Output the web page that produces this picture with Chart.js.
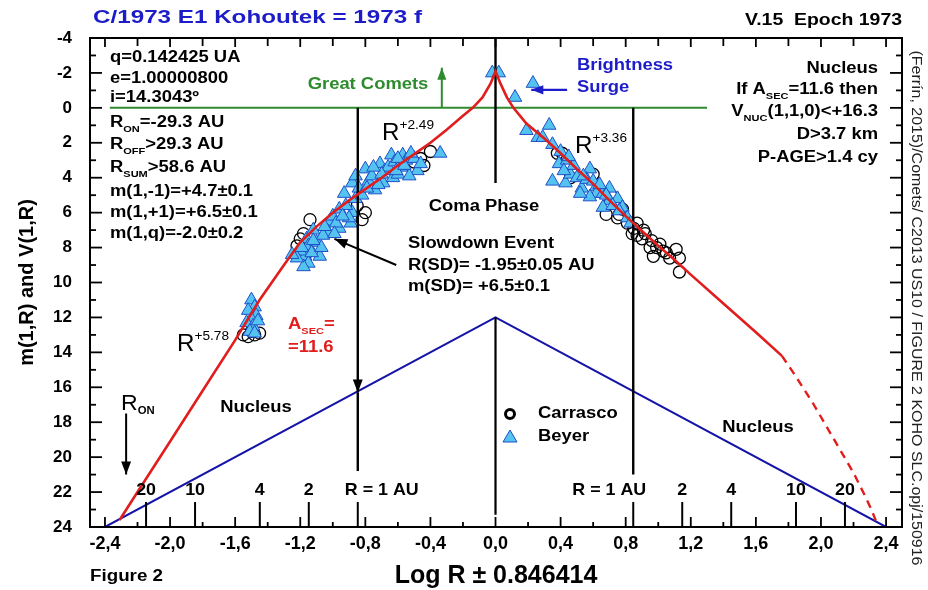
<!DOCTYPE html>
<html><head><meta charset="utf-8">
<script src="https://cdn.jsdelivr.net/npm/chart.js@4.4.1/dist/chart.umd.min.js"></script>
<style>html,body{margin:0;padding:0;background:#fff}#wrap{width:928px;height:590px}</style>
</head><body><div id="wrap"><canvas id="c" width="928" height="590"></canvas></div>
<script>
// ---------------- data ----------------
const xTickValues = [-2.4,-2.0,-1.6,-1.2,-0.8,-0.4,0,0.4,0.8,1.2,1.6,2.0,2.4];
const yTickValues = [-4,-2,0,2,4,6,8,10,12,14,16,18,20,22,24];
const rDistances = [1,2,4,10,20];
const rLabels = ['R = 1 AU','2','4','10','20'];
const logOffset = 0.846414;

const beyerX = [-1.50,-1.48,-1.52,-1.47,-1.50,-1.53,-1.49,-1.46,-1.51,-1.48,
  -1.16,-1.15,-1.17,-1.15,-1.08,-1.02,-1.00,-0.93,-0.88,-0.86,-0.88,-0.80,-0.71,-0.64,-0.57,-0.69,-0.63,-0.60,-0.48,-0.34,
  -0.96,-1.03,-0.96,-0.89,-0.74,-1.20,-1.18,-1.12,-1.10,-1.06,-1.05,-0.98,-0.92,-0.90,-0.84,-0.82,-0.78,-0.76,-0.72,-0.68,
  -0.66,-0.62,-0.58,-0.55,-0.53,-0.50,-0.86,-1.13,-1.22,
  -0.94,-0.99,-1.07,-0.79,-0.70,-0.61,-0.56,-0.46,-0.52,-0.60,-0.75,-1.25,-1.19,-1.12,
  -0.02,0.02,0.23,0.12,0.33,0.19,0.26,0.29,0.35,0.40,0.39,0.35,0.43,0.46,0.50,0.53,0.58,0.56,0.62,0.62,
  0.66,0.70,0.70,0.75,0.66,0.78,0.81,0.83,0.58,0.52,0.44,0.48,0.54,0.60,0.64,0.68,0.72,0.76,0.45,0.42];
const beyerY = [11.0,11.4,11.6,11.9,12.1,12.3,12.5,12.2,12.8,12.9,
  7.5,7.9,8.5,8.9,8.5,6.5,6.2,4.9,4.3,5.2,6.0,3.5,3.2,2.7,2.7,4.3,4.0,3.8,3.6,2.6,
  5.8,7.1,6.9,6.6,4.7,8.2,9.1,7.0,7.7,7.3,6.8,6.6,5.6,6.3,4.6,5.0,4.2,3.9,4.4,3.6,
  3.4,3.1,3.4,3.0,3.9,2.9,3.9,8.3,8.6,
  6.2,7.2,8.0,4.6,3.8,3.6,3.3,3.2,2.6,2.9,3.4,8.4,8.0,7.6,
  -2.0,-2.0,-1.4,-0.6,1.0,1.3,1.7,1.7,2.1,2.5,3.2,4.2,4.3,3.8,4.0,4.6,3.5,4.1,4.5,4.9,
  4.9,4.6,5.3,5.2,5.7,5.7,6.3,6.6,5.1,4.9,3.0,3.3,3.9,4.2,4.4,5.0,5.6,5.9,2.8,3.6];

const carrascoX = [-1.55,-1.52,-1.48,-1.45,-1.50,
  -0.46,-0.44,-0.40,-0.50,-0.80,-0.82,-1.18,-1.20,-1.14,-1.22,-1.16,-0.85,
  0.38,0.41,0.60,0.72,0.70,0.68,0.75,0.81,0.85,0.87,0.90,0.92,0.96,0.99,0.97,1.03,1.07,1.11,1.13,1.13,
  1.05,0.91,0.87,0.76,0.78,0.46,0.64,0.95,1.01,0.84];
const carrascoY = [13.0,13.1,13.0,12.9,12.8,
  2.9,3.3,2.5,3.1,6.0,6.4,7.2,7.5,6.4,7.9,8.3,5.6,
  2.6,2.6,3.8,5.1,5.5,6.1,6.3,6.6,6.9,7.3,7.5,7.2,7.6,8.0,8.5,8.2,8.6,8.1,8.6,9.4,
  8.3,7.0,6.6,6.1,5.8,4.0,4.7,8.0,7.8,7.2];

const redX = [-2.31,-2.2,-2.0,-1.8,-1.6,-1.45,-1.3,-1.2,-1.1,-1.0,-0.9,-0.8,-0.7,-0.6,-0.5,-0.4,-0.3,-0.2,-0.14,-0.08,-0.03,0,0.03,0.07,0.11,0.19,0.3,0.4,0.5,0.6,0.7,0.8,0.9,1.0,1.1,1.2,1.4,1.6,1.76];
const redY = [23.6,22.0,19.1,16.2,13.3,11.0,9.0,7.7,6.8,6.0,5.3,4.65,4.0,3.3,2.65,2.0,1.25,0.45,0.0,-0.6,-1.4,-2.1,-1.4,-0.6,0.0,0.9,1.75,2.6,3.5,4.35,5.3,6.2,7.05,7.9,8.7,9.55,11.2,12.85,14.2];
const redDashX = [1.76,1.84,1.95,2.1,2.2,2.27,2.31,2.34];
const redDashY = [14.2,15.3,16.9,19.3,20.9,22.2,23.0,23.7];

const nucleusX = [-2.4,0,2.4];
const nucleusY = [24,12,24];
const greenX = [-2.37,1.3];
const greenY = [0,0];
const greenArrowX = [-0.33,-0.33];
const greenArrowY = [0,-2.3];
const surgeArrowX = [0.44,0.22];
const surgeArrowY = [-1.03,-1.03];
const slowdownArrowX = [-0.61,-0.99];
const slowdownArrowY = [9.0,7.5];
const ronArrowX = [-2.27,-2.27];
const ronArrowY = [17.5,21.0];
const axisZeroUpperY = [-4,4.3];
const axisZeroLowerY = [12,23.3];
const oneAuLeftUpperY = [0,16.3];
const oneAuLeftLowerY = [16.3,20.8];
const oneAuRightY = [0,21.0];

// ---------------- helpers ----------------
const SANS = '"Liberation Sans", Arial, Helvetica, sans-serif';
const zip = (xs, ys) => xs.map((x, i) => ({x, y: ys[i]}));
const RED = '#e11d1d', NBLUE = '#1414a8', GREEN = '#2e8b2e', TBLUE = '#1c1cc8';

function txt(ctx, parts, x, y, o) {
  o = Object.assign({size: 16, weight: 'bold', family: SANS, color: '#000', align: 'left', sx: 1.15, sub: 0.6}, o || {});
  if (typeof parts === 'string') parts = [[parts]];
  const segs = parts.map(p => {
    const kind = p[1] || 'n';
    const sz = kind === 'n' ? (p[2] || o.size) : o.size * o.sub;
    const w8 = p[3] || o.weight;
    const f = `${w8} ${sz}px ${o.family}`;
    ctx.font = f;
    return {t: p[0], kind, f, w: ctx.measureText(p[0]).width};
  });
  let total = segs.reduce((a, s) => a + s.w, 0);
  const sx = o.width ? o.width / total : o.sx;
  total *= sx;
  let cx = o.align === 'left' ? x : o.align === 'right' ? x - total : x - total / 2;
  for (const s of segs) {
    const dy = s.kind === 'sub' ? o.size * 0.38 : s.kind === 'sup' ? -o.size * 0.42 : 0;
    ctx.save();
    ctx.font = s.f; ctx.fillStyle = o.color; ctx.textBaseline = 'middle'; ctx.textAlign = 'left';
    ctx.translate(cx, y + dy); ctx.scale(sx, 1); ctx.fillText(s.t, 0, 0);
    ctx.restore();
    cx += s.w * sx;
  }
}

const decor = {
  id: 'decor',
  afterDatasetsDraw(chart) {
    const ctx = chart.ctx;
    chart.data.datasets.forEach((ds, i) => {
      if (!ds.arrowHead) return;
      const pts = chart.getDatasetMeta(i).data, n = pts.length;
      const a = pts[n - 2], b = pts[n - 1];
      const ang = Math.atan2(b.y - a.y, b.x - a.x);
      const L = ds.arrowHead, W = L * 0.38;
      ctx.save(); ctx.fillStyle = ds.borderColor;
      ctx.beginPath(); ctx.moveTo(b.x, b.y);
      ctx.lineTo(b.x - L * Math.cos(ang) + W * Math.sin(ang), b.y - L * Math.sin(ang) - W * Math.cos(ang));
      ctx.lineTo(b.x - L * Math.cos(ang) - W * Math.sin(ang), b.y - L * Math.sin(ang) + W * Math.cos(ang));
      ctx.closePath(); ctx.fill(); ctx.restore();
    });
  },
  afterDraw(chart) {
    const ctx = chart.ctx;
    const {left, right, top, bottom} = chart.chartArea;
    const xs = chart.scales.x, ys = chart.scales.y;
    ctx.save();
    ctx.strokeStyle = '#000'; ctx.lineWidth = 2;
    ctx.strokeRect(left, top, right - left, bottom - top);
    ctx.lineWidth = 1.8;
    const seg = (x1, y1, x2, y2) => { ctx.beginPath(); ctx.moveTo(x1, y1); ctx.lineTo(x2, y2); ctx.stroke(); };
    const xMinor = xTickValues.slice(1).map((v, i) => (v + xTickValues[i]) / 2);
    xTickValues.forEach(v => { const p = xs.getPixelForValue(v); seg(p, bottom, p, bottom - 10); seg(p, top, p, top + 9); });
    xMinor.forEach(v => { const p = xs.getPixelForValue(v); seg(p, bottom, p, bottom - 5); seg(p, top, p, top + 8); });
    const yMinor = yTickValues.slice(1).map((v, i) => (v + yTickValues[i]) / 2);
    yTickValues.forEach(v => { const p = ys.getPixelForValue(v); seg(left, p, left + 12, p); seg(right, p, right - 12, p); });
    yMinor.forEach(v => { const p = ys.getPixelForValue(v); seg(left, p, left + 6, p); seg(right, p, right - 6, p); });
    // R scale ticks along the bottom
    ctx.lineWidth = 2;
    const rTop = ys.getPixelForValue(22.57), rLab = ys.getPixelForValue(21.9);
    rDistances.forEach((r, i) => {
      [-1, 1].forEach(sg => {
        const p = xs.getPixelForValue(sg * (Math.log10(r) + logOffset));
        seg(p, bottom, p, rTop);
        const off = i === 0 ? -sg * 24 : 0;
        txt(ctx, rLabels[i], p + off, rLab, {size: 17, align: 'center', sx: 1.05});
      });
    });
    ctx.restore();

    // titles
    txt(ctx, 'C/1973 E1 Kohoutek = 1973 f', 93, 18, {size: 19, color: TBLUE, width: 329});
    txt(ctx, 'V.15  Epoch 1973', 902, 20, {size: 17, align: 'right', width: 157});
    txt(ctx, 'Figure 2', 90, 577, {size: 16, width: 73});
    ctx.save(); ctx.translate(916, 308); ctx.rotate(Math.PI / 2);
    txt(ctx, '(Ferrín, 2015)/Comets/ C2013 US10 / FIGURE 2 KOHO SLC.opj/150916', 0, 0, {size: 15, weight: 'normal', align: 'center', width: 515, color: '#222'});
    ctx.restore();

    // left parameter block
    const L = 110;
    txt(ctx, 'q=0.142425 UA', L, 58);
    txt(ctx, 'e=1.00000800', L, 79);
    txt(ctx, 'i=14.3043º', L, 98);
    txt(ctx, [['R'], ['ON', 'sub'], ['=-29.3 AU']], L, 123);
    txt(ctx, [['R'], ['OFF', 'sub'], ['>29.3 AU']], L, 145);
    txt(ctx, [['R'], ['SUM', 'sub'], ['>58.6 AU']], L, 168);
    txt(ctx, 'm(1,-1)=+4.7±0.1', L, 192);
    txt(ctx, 'm(1,+1)=+6.5±0.1', L, 213);
    txt(ctx, 'm(1,q)=-2.0±0.2', L, 234);

    // right nucleus block
    const R = 878;
    txt(ctx, 'Nucleus', R, 69, {align: 'right'});
    txt(ctx, [['If A'], ['SEC', 'sub'], ['=11.6 then']], R, 90, {align: 'right'});
    txt(ctx, [['V'], ['NUC', 'sub'], ['(1,1,0)<+16.3']], R, 112, {align: 'right'});
    txt(ctx, 'D>3.7 km', R, 135, {align: 'right'});
    txt(ctx, 'P-AGE>1.4 cy', R, 158, {align: 'right'});

    txt(ctx, 'Great Comets', 368, 85, {align: 'center', color: GREEN});
    txt(ctx, 'Brightness', 577, 66, {color: TBLUE});
    txt(ctx, 'Surge', 577, 88, {color: TBLUE});
    txt(ctx, 'Coma Phase', 484, 207, {align: 'center'});
    txt(ctx, 'Slowdown Event', 408, 244);
    txt(ctx, 'R(SD)= -1.95±0.05 AU', 408, 266);
    txt(ctx, 'm(SD)= +6.5±0.1', 408, 287);
    txt(ctx, [['A'], ['SEC', 'sub'], ['=']], 288, 325, {color: RED});
    txt(ctx, '=11.6', 288, 348, {color: RED});
    txt(ctx, 'Nucleus', 256, 408, {align: 'center'});
    txt(ctx, 'Nucleus', 758, 428, {align: 'center'});
    txt(ctx, [['R', 'n', 22, 'normal'], ['ON', 'sub']], 121, 404, {size: 18, sub: 0.6, sx: 1.05});
    txt(ctx, [['R', 'n', 23, 'normal'], ['+2.49', 'sup']], 382, 134, {size: 21, weight: 'normal', sub: 0.62, sx: 1.05});
    txt(ctx, [['R', 'n', 23, 'normal'], ['+3.36', 'sup']], 575, 147, {size: 21, weight: 'normal', sub: 0.62, sx: 1.05});
    txt(ctx, [['R', 'n', 23, 'normal'], ['+5.78', 'sup']], 177, 345, {size: 21, weight: 'normal', sub: 0.62, sx: 1.05});

    // legend
    ctx.save();
    ctx.lineWidth = 3; ctx.strokeStyle = '#000';
    ctx.beginPath(); ctx.arc(510, 414, 4.5, 0, Math.PI * 2); ctx.stroke();
    ctx.fillStyle = '#55c3f0'; ctx.strokeStyle = '#1f4fc8'; ctx.lineWidth = 1;
    ctx.beginPath(); ctx.moveTo(510, 430); ctx.lineTo(517, 442); ctx.lineTo(503, 442); ctx.closePath(); ctx.fill(); ctx.stroke();
    ctx.restore();
    txt(ctx, 'Carrasco', 538, 414);
    txt(ctx, 'Beyer', 538, 437);
  }
};

const lineDs = (label, xs, ys, color, width, extra) => Object.assign({
  label, data: zip(xs, ys), showLine: true, borderColor: color, backgroundColor: color,
  borderWidth: width, pointRadius: 0, pointHoverRadius: 0, tension: 0, fill: false
}, extra || {});

const datasets = [
  lineDs('Model (coma)', redX, redY, RED, 2.6, {order: 0}),
  lineDs('Model (extrapolated)', redDashX, redDashY, RED, 2.4, {order: 0, borderDash: [8, 6]}),
  lineDs('x=0 upper', [0, 0], axisZeroUpperY, '#000', 2.4, {order: 1}),
  lineDs('x=0 lower', [0, 0], axisZeroLowerY, '#000', 2.2, {order: 1}),
  lineDs('R=1 AU left', [-logOffset, -logOffset], oneAuLeftUpperY, '#000', 2.4, {order: 1, arrowHead: 13}),
  lineDs('R=1 AU left lower', [-logOffset, -logOffset], oneAuLeftLowerY, '#000', 2.4, {order: 1}),
  lineDs('R=1 AU right', [logOffset, logOffset], oneAuRightY, '#000', 2.4, {order: 1}),
  lineDs('Slowdown arrow', slowdownArrowX, slowdownArrowY, '#000', 2, {order: 1, arrowHead: 13}),
  lineDs('R_ON arrow', ronArrowX, ronArrowY, '#000', 2, {order: 1, arrowHead: 13}),
  lineDs('Surge arrow', surgeArrowX, surgeArrowY, TBLUE, 2.2, {order: 1, arrowHead: 12}),
  lineDs('Great comets arrow', greenArrowX, greenArrowY, GREEN, 2, {order: 1, arrowHead: 12}),
  {label: 'Beyer', data: zip(beyerX, beyerY), showLine: false, pointStyle: 'triangle', pointRadius: 7.8,
   backgroundColor: '#55c3f0', borderColor: '#1f4fc8', borderWidth: 1, order: 3},
  {label: 'Carrasco', data: zip(carrascoX, carrascoY), showLine: false, pointStyle: 'circle', pointRadius: 6,
   backgroundColor: 'rgba(255,255,255,0)', borderColor: '#000', borderWidth: 1.3, order: 4},
  lineDs('Nucleus', nucleusX, nucleusY, NBLUE, 2, {order: 5}),
  lineDs('Great comets limit', greenX, greenY, GREEN, 2, {order: 5})
];

Chart.defaults.font.family = SANS;
new Chart(document.getElementById('c'), {
  type: 'scatter',
  data: {datasets},
  options: {
    responsive: false, animation: false, devicePixelRatio: 1,
    layout: {padding: {top: 38, right: 26, bottom: 0, left: 0}},
    plugins: {legend: {display: false}, tooltip: {enabled: false}},
    events: [],
    scales: {
      x: {
        type: 'linear', min: -2.492, max: 2.498,
        afterBuildTicks: s => { s.ticks = xTickValues.map(v => ({value: v})); },
        afterFit: s => { s.height = 63; },
        grid: {display: false, drawTicks: false}, border: {display: false},
        ticks: {color: '#000', font: {size: 18, weight: 'bold'}, padding: 6, maxRotation: 0, autoSkip: false,
                callback: v => v.toFixed(1).replace('.', ',')},
        title: {display: true, text: 'Log R ± 0.846414', color: '#000', font: {size: 25, weight: 'bold', lineHeight: 1}, padding: {top: 0, bottom: 1}}
      },
      y: {
        type: 'linear', reverse: true, min: -4, max: 24,
        afterBuildTicks: s => { s.ticks = yTickValues.map(v => ({value: v})); },
        afterFit: s => { s.width = 90; },
        grid: {display: false, drawTicks: false}, border: {display: false},
        ticks: {color: '#000', font: {size: 17, weight: 'bold'}, padding: 18, autoSkip: false, callback: v => String(v)},
        title: {display: true, text: 'm(1,R) and V(1,R)', color: '#000', font: {size: 20, weight: 'bold', lineHeight: 1}, padding: {top: 17, bottom: 0}}
      }
    }
  },
  plugins: [decor]
});
</script></body></html>
